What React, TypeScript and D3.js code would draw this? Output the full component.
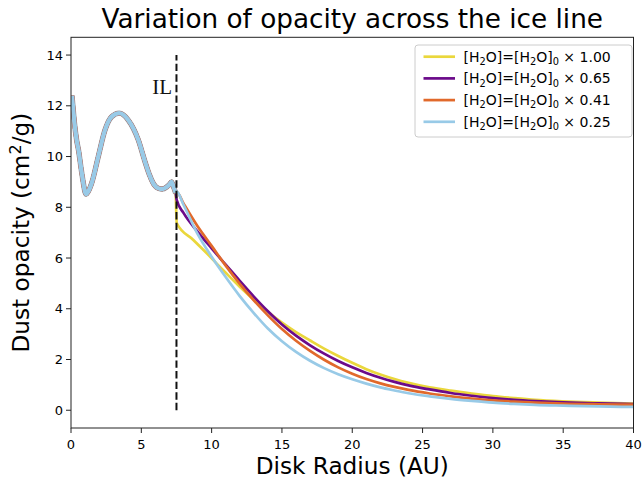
import React from "react";
import * as d3 from "d3";

const W = 644;
const H = 479;

const xTicks = [0, 5, 10, 15, 20, 25, 30, 35, 40];
const yTicks = [0, 2, 4, 6, 8, 10, 12, 14];

// shared curve inside the ice line (identical for all abundances)
const innerCurve: [number, number][] = [
  [0.07, 12.4], [0.15, 11.9], [0.25, 11.3], [0.4, 10.65], [0.55, 10.2], [0.7, 9.6],
  [0.85, 9.05], [1.0, 8.6], [1.08, 8.52], [1.2, 8.6], [1.47, 8.95], [1.94, 10.0],
  [2.42, 11.05], [2.89, 11.57], [3.43, 11.71], [4.07, 11.44], [4.79, 10.65],
  [5.26, 9.8], [5.6, 9.25], [5.9, 8.9], [6.2, 8.75], [6.5, 8.72], [6.8, 8.8],
  [7.0, 8.9], [7.15, 9.0], [7.3, 8.8], [7.45, 8.55],
];

const seriesLabels = ["1.00", "0.65", "0.41", "0.25"];
const seriesColors = ["#EAD73C", "#6B0A8A", "#E1692B", "#98CAE7"];

const outer100: [number, number][] = [
  [7.45, 8.55], [7.52, 7.37], [8.7, 6.71], [9.9, 6.05], [10.5, 5.7], [11, 5.42], [12, 4.87],
  [13, 4.36], [14, 3.88], [15, 3.45], [16, 3.08], [17, 2.75], [18, 2.43], [19, 2.14],
  [20, 1.87], [21, 1.62], [22, 1.41], [23, 1.23], [24, 1.08], [25.5, 0.9], [27, 0.77],
  [28.5, 0.66], [30, 0.56], [31.5, 0.48], [33, 0.41], [35, 0.35], [37.5, 0.3], [40, 0.26],
];
const outer065: [number, number][] = [
  [7.45, 8.55], [7.52, 8.28], [8, 7.78], [9, 7.04], [10, 6.38], [11, 5.74], [12, 5.1],
  [13, 4.48], [14, 3.9], [15, 3.38], [16, 2.94], [17, 2.56], [18, 2.23], [19, 1.94],
  [20, 1.69], [21, 1.47], [22, 1.28], [23, 1.12], [24, 0.98], [25.5, 0.82], [27, 0.68],
  [28.5, 0.57], [30, 0.48], [31.5, 0.41], [33, 0.36], [35, 0.31], [37.5, 0.27], [40, 0.24],
];
const outer041: [number, number][] = [
  [7.45, 8.55], [7.52, 8.6], [8, 8.15], [9, 7.25], [10, 6.48], [11, 5.7], [12, 4.98],
  [13, 4.33], [14, 3.74], [15, 3.2], [16, 2.74], [17, 2.34], [18, 1.99], [19, 1.69],
  [20, 1.44], [21, 1.23], [22, 1.06], [23, 0.92], [24, 0.8], [25.5, 0.66], [27, 0.55],
  [28.5, 0.46], [30, 0.39], [31.5, 0.34], [33, 0.3], [35, 0.26], [37.5, 0.235], [40, 0.22],
];
const outer025: [number, number][] = [
  [7.45, 8.55], [7.52, 8.62], [8, 8.1], [9, 6.95], [10, 6.05], [11, 5.25], [12, 4.5],
  [13, 3.83], [14, 3.22], [15, 2.72], [16, 2.3], [17, 1.95], [18, 1.66], [19, 1.42],
  [20, 1.22], [21, 1.05], [22, 0.9], [23, 0.78], [24, 0.67], [25.5, 0.55], [27, 0.45],
  [28.5, 0.37], [30, 0.3], [31.5, 0.25], [33, 0.21], [35, 0.18], [37.5, 0.15], [40, 0.13],
];
const outerSeries = [outer100, outer065, outer041, outer025];

const iceLineX = 7.5;
const iceLineY: [number, number] = [0, 14];

export default function App() {
  const left = 71, right = 633.5, top = 37.3, bottom = 428;
  const x = d3.scaleLinear().domain([0, 40]).range([left, right]);
  const y = d3.scaleLinear().domain([-0.7, 14.7]).range([bottom, top]);
  const line = d3
    .line<[number, number]>()
    .x((d) => x(d[0]))
    .y((d) => y(d[1]))
    .curve(d3.curveMonotoneX);

  const font = "DejaVu Sans, sans-serif";
  const spine = "#222";

  const legX = 415, legY = 45, legW = 217, legH = 92;
  const rowY = (i: number) => 56.7 + i * 21.7;

  return (
    <div style={{ position: "absolute", left: 0, top: 0 }}>
      <svg width={W} height={H} style={{ display: "block", background: "#fff" }}>
        <defs>
          <clipPath id="plotclip">
            <rect x={left} y={top} width={right - left} height={bottom - top} />
          </clipPath>
        </defs>
        <text x={(left + right) / 2} y={28} textAnchor="middle" fontFamily={font} fontSize={26.3} fill="#000">
          Variation of opacity across the ice line
        </text>

        <g clipPath="url(#plotclip)">
          {/* inner shared curve: all series overlapping */}
          <path d={line(innerCurve) || ""} fill="none" stroke="#9aa0aa" strokeWidth={5.4} strokeLinejoin="round" />
          {seriesColors.map((c, i) => (
            <path key={"in" + i} d={line(innerCurve) || ""} fill="none" stroke={c} strokeWidth={4.4} strokeLinejoin="round" />
          ))}
          {outerSeries.map((s, i) => (
            <path key={"out" + i} d={line(s) || ""} fill="none" stroke={seriesColors[i]} strokeWidth={2.7} strokeLinejoin="round" />
          ))}
          <line
            x1={x(iceLineX)} x2={x(iceLineX)} y1={y(iceLineY[0])} y2={y(iceLineY[1])}
            stroke="#111" strokeWidth={2} strokeDasharray="7.4,3.2"
          />
        </g>
        <text x={x(iceLineX) - 4.5} y={94.3} textAnchor="end" fontFamily="Liberation Serif, serif" fontSize={21} fill="#111">
          IL
        </text>

        {/* spines */}
        <rect x={left} y={top} width={right - left} height={bottom - top} fill="none" stroke={spine} strokeWidth={1} />

        {/* x ticks */}
        {xTicks.map((t) => (
          <g key={"xt" + t}>
            <line x1={x(t)} x2={x(t)} y1={bottom} y2={bottom + 5} stroke={spine} strokeWidth={1} />
            <text x={x(t)} y={449} textAnchor="middle" fontFamily={font} fontSize={13} fill="#000">
              {t}
            </text>
          </g>
        ))}
        {/* y ticks */}
        {yTicks.map((t) => (
          <g key={"yt" + t}>
            <line x1={left - 5} x2={left} y1={y(t)} y2={y(t)} stroke={spine} strokeWidth={1} />
            <text x={left - 8} y={y(t) + 4.6} textAnchor="end" fontFamily={font} fontSize={13} fill="#000">
              {t}
            </text>
          </g>
        ))}

        <text x={(left + right) / 2} y={474} textAnchor="middle" fontFamily={font} fontSize={23.2} fill="#000">
          Disk Radius (AU)
        </text>
        <text
          transform={`translate(29,${(top + bottom) / 2}) rotate(-90)`}
          textAnchor="middle" fontFamily={font} fontSize={23.2} fill="#000"
        >
          Dust opacity (cm
          <tspan fontSize={16} dy={-8}>2</tspan>
          <tspan dy={8}>/g)</tspan>
        </text>

        {/* legend */}
        <rect x={legX} y={legY} width={legW} height={legH} rx={3} fill="#fff" fillOpacity={0.8} stroke="#ccc" strokeWidth={1} />
        {seriesLabels.map((lab, i) => (
          <g key={"lg" + i}>
            <line x1={423.5} x2={455} y1={rowY(i)} y2={rowY(i)} stroke={seriesColors[i]} strokeWidth={2.7} />
            <text x={463.5} y={rowY(i) + 5} fontFamily={font} fontSize={14} fill="#000">
              [H<tspan fontSize={9.8} dy={3.1}>2</tspan>
              <tspan dy={-3.1}>O]=[H</tspan>
              <tspan fontSize={9.8} dy={3.1}>2</tspan>
              <tspan dy={-3.1}>O]</tspan>
              <tspan fontSize={9.8} dy={3.1}>0</tspan>
              <tspan dy={-3.1}>{" \u00d7 " + lab}</tspan>
            </text>
          </g>
        ))}
      </svg>
    </div>
  );
}
